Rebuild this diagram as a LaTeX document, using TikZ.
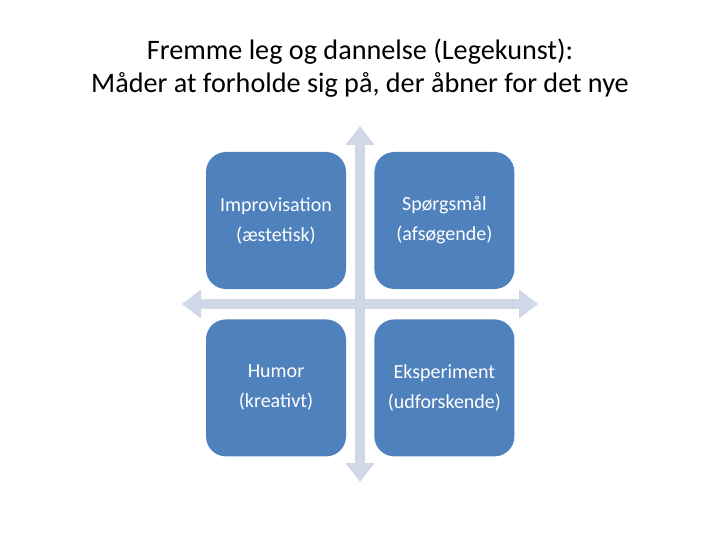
\documentclass[tikz,border=0pt]{standalone}
\usepackage{fontspec}
\setmainfont{Carlito}
\usepackage{tikz}
\usetikzlibrary{arrows.meta, positioning}
\definecolor{boxblue}{RGB}{79, 129, 189}
\definecolor{axisgray}{RGB}{208, 216, 232}

\begin{document}
\begin{tikzpicture}[
  x=1pt, y=1pt,
  node distance = 30pt and 28pt,
  quad/.style  = {rectangle, rounded corners=20pt, fill=boxblue, draw=none,
                  minimum width=140pt, minimum height=137pt,
                  text=white, align=center,
                  font=\fontsize{20}{30}\selectfont},
  axis/.style  = {{Triangle[width=28pt,length=19pt]}-{Triangle[width=28pt,length=19pt]},
                  line width=10pt, draw=axisgray},
]
  \useasboundingbox (0,0) rectangle (720,-540);

  % Title
  \node[align=center, font=\fontsize{28.2}{33}\selectfont] (title) at (360,-68)
    {Fremme leg og dannelse (Legekunst):\\Måder at forholde sig på, der åbner for det nye};

  % Axes
  \coordinate (up)    at (360,-126);
  \coordinate (down)  at (360,-482);
  \coordinate (left)  at (182,-304);
  \coordinate (right) at (538,-304);
  \draw[axis] (down) -- (up);
  \draw[axis] (left) -- (right);

  % Quadrants
  \node[quad] (impro) at (276,-220.5) {Improvisation\\(æstetisk)};
  \node[quad, right=of impro] (sporg) {Spørgsmål\\(afsøgende)};
  \node[quad, below=of impro] (humor) {Humor\\(kreativt)};
  \node[quad, below=of sporg] (eksp) {Eksperiment\\(udforskende)};
\end{tikzpicture}
\end{document}
